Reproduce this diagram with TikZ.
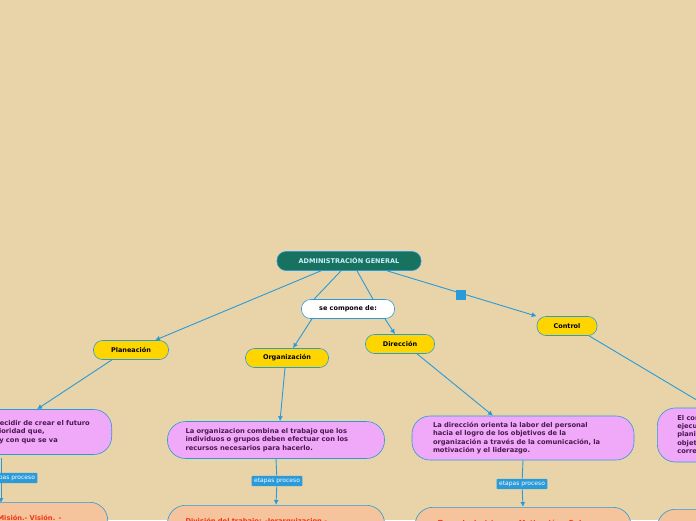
\documentclass[tikz,border=0pt]{standalone}
\usepackage{fontspec}
\setmainfont{DejaVu Sans}
\usetikzlibrary{arrows.meta}
\definecolor{bg}{HTML}{E8D4A8}
\definecolor{edgeblue}{HTML}{2A9AD9}
\definecolor{topgreen}{HTML}{17735F}
\definecolor{pinkbox}{HTML}{F0A8F8}
\definecolor{orangebox}{HTML}{F5C49C}
\definecolor{yellowbox}{HTML}{FFD500}
\definecolor{redtxt}{HTML}{F0361A}
\definecolor{purpletxt}{HTML}{4A1A50}
\tikzset{
  conn/.style={draw=edgeblue,line width=0.9pt},
  arr/.style={conn,-{Latex[length=5pt,width=5pt]}},
  pill/.style={rounded corners=9pt,draw=edgeblue,line width=0.6pt,font=\fontsize{6.5}{7}\selectfont\bfseries,inner sep=2pt},
  topic/.style={pill,fill=yellowbox,minimum height=19pt},
  descbox/.style={rounded corners=18pt,draw=edgeblue,line width=0.6pt,fill=pinkbox,text=purpletxt,font=\fontsize{6.7}{8.4}\selectfont\bfseries,align=left,inner xsep=18pt},
  stepsbox/.style={descbox,fill=orangebox,text=redtxt},
  tag/.style={fill=edgeblue,text=white,font=\fontsize{6}{6}\selectfont,inner sep=2.5pt,rounded corners=1pt}
}
\begin{document}
\begin{tikzpicture}[x=1pt,y=-1pt]
\useasboundingbox (0,0) rectangle (696,520);
\fill[bg] (0,0) rectangle (696,520);
\clip (0,0) rectangle (696,520);

	\node[pill,fill=topgreen,text=cyan!20,minimum width=144pt,minimum height=19pt] (admin) at (349,261) {ADMINISTRACIÓN GENERAL};
	\node[pill,fill=white,minimum width=93pt,minimum height=19pt] (comp) at (348,309) {se compone de:};
	\node[topic,minimum width=75pt] (plan) at (131,350) {Planeación};
	\node[topic,minimum width=83pt] (org) at (287,358) {Organización};
	\node[topic,minimum width=69pt] (dir) at (400,344) {Dirección};
	\node[topic,minimum width=60pt] (ctrl) at (567,326) {Control};

	\node[descbox,anchor=east,minimum height=45pt,inner xsep=22pt] (plandesc) at (112,432) {Planear consiste en decidir de crear el futuro\\determinar con anterioridad que,\\cómo, cuándo, quien y con que se va};
	\node[descbox,minimum width=213pt,minimum height=37pt,text width=181pt] (orgdesc) at (276,440) {La organizacion combina el trabajo que los\\individuos o grupos deben efectuar con los\\recursos necesarios para hacerlo.};
	\node[descbox,minimum width=222pt,minimum height=44pt,text width=180pt] (dirdesc) at (523,438) {La dirección orienta la labor del personal\\hacia el logro de los objetivos de la\\organización a través de la comunicación, la\\motivación y el liderazgo.};
	\node[descbox,anchor=west,minimum height=54pt,inner xsep=20pt] (ctrldesc) at (657,435) {El control mide la\\ejecución de lo\\planificado y los\\objetivos para\\corregir};

	\node[tag] (plantag) at (12,478) {etapas proceso};
	\node[tag] (orgtag) at (277,481) {etapas proceso};
	\node[tag] (dirtag) at (522,484) {etapas proceso};
	\coordinate (plantop) at (1,458);
	\coordinate (planbot) at (1,503);

	\node[stepsbox,anchor=north east,minimum height=40pt,text width=140pt] (plansteps) at (108,502) {Propósitos.- Misión.- Visión. -\\Premisas. - Objetivos.};
	\node[stepsbox,anchor=north,minimum width=213pt,minimum height=40pt,text width=181pt] (orgsteps) at (276,505) {División del trabajo: -Jerarquizacion.-\\Departamentalización.};
	\node[stepsbox,anchor=north,minimum width=212pt,minimum height=40pt,text width=180pt] (dirsteps) at (523,507) {- Toma de decisiones.- Motivación. -Del\\personal.};
	\node[stepsbox,anchor=north west,minimum height=40pt] (ctrlsteps) at (657,509) {Establecimiento};

	\draw[arr] ([xshift=-28pt]admin.south) -- ([xshift=24pt]plan.north);
	\draw[conn] ([xshift=-8pt]admin.south) -- ([xshift=-34pt]comp.north);
	\draw[conn] ([xshift=8pt]admin.south) -- ([xshift=25pt]comp.north);
	\draw[arr] ([xshift=-36pt]comp.south) -- ([xshift=6pt]org.north);
	\draw[arr] ([xshift=37pt]comp.south) -- ([xshift=-5pt]dir.north);
	\draw[arr] ([xshift=38pt]admin.south) -- (ctrl.north west);
	\fill[edgeblue] (456,290) rectangle (466,300);
	\draw[arr] ([xshift=-19pt]plan.south) -- ([xshift=-75pt]plandesc.north east);
	\draw[arr] ([xshift=-2pt]org.south) -- ([xshift=4pt]orgdesc.north);
	\draw[arr] ([xshift=17pt]dir.south) -- ([xshift=-30pt]dirdesc.north);
	\draw[conn] ([xshift=22pt]ctrl.south) -- (700,402);

	\draw[conn] (plantop) -- (plantag.north -| plantop);
	\draw[arr] (plantag.south -| plantop) -- (planbot);
	\draw[conn] (orgdesc.south) -- (orgtag);
	\draw[arr] (orgtag) -- (orgsteps.north);
	\draw[conn] (dirdesc.south) -- (dirtag);
	\draw[arr] (dirtag) -- (dirsteps.north);
\end{tikzpicture}
\end{document}
